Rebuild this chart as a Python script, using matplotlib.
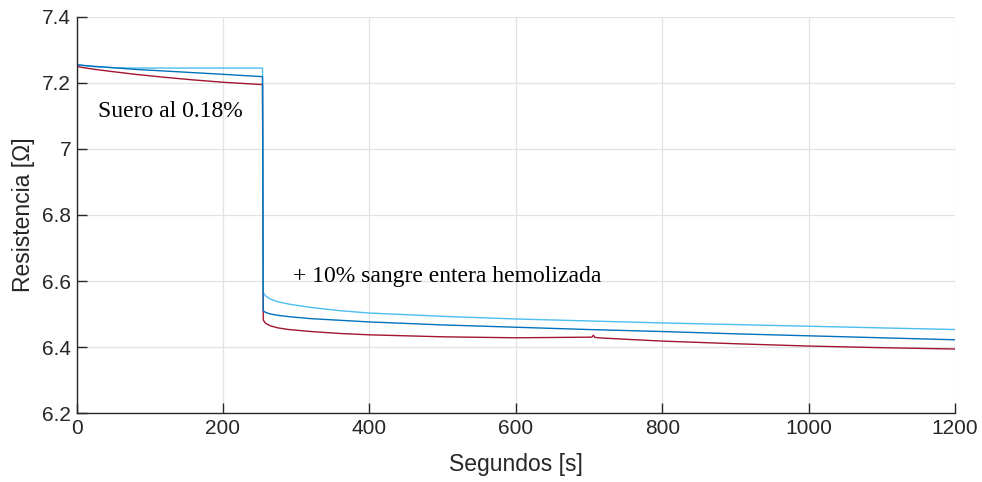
import matplotlib.pyplot as plt

# Resistance readings (ohm) over time (s) for three electrodes
t_pre = [0, 10, 25, 50, 80, 120, 160, 200, 230, 254]
r_cyan_pre = [7.255, 7.252, 7.249, 7.246, 7.245, 7.245, 7.245, 7.245, 7.245, 7.245]
r_blue_pre = [7.255, 7.253, 7.250, 7.246, 7.241, 7.236, 7.231, 7.226, 7.222, 7.219]
r_red_pre = [7.250, 7.246, 7.241, 7.234, 7.226, 7.217, 7.209, 7.202, 7.198, 7.195]

t_post = [255, 258, 265, 275, 290, 320, 360, 400, 500, 600, 700, 800, 900, 1000, 1100, 1200]
r_cyan_post = [6.565, 6.555, 6.545, 6.537, 6.530, 6.520, 6.510, 6.503, 6.493, 6.485, 6.479, 6.473, 6.468, 6.463, 6.458, 6.453]
r_blue_post = [6.510, 6.505, 6.500, 6.496, 6.492, 6.486, 6.481, 6.476, 6.467, 6.460, 6.453, 6.447, 6.440, 6.434, 6.428, 6.422]

# red trace has a small step near t = 706 s
t_red_post = [255, 258, 265, 275, 290, 320, 360, 400, 500, 600, 704, 706, 708, 720, 800, 900, 1000, 1100, 1200]
r_red_post = [6.482, 6.472, 6.464, 6.458, 6.453, 6.447, 6.441, 6.437, 6.431, 6.428, 6.430, 6.436, 6.429, 6.427, 6.418, 6.410, 6.403, 6.398, 6.394]

cyan = "#4DBEEE"
blue = "#0072BD"
red = "#A2142F"

plt.rcParams["font.family"] = ["Liberation Sans", "DejaVu Sans"]

fig, ax = plt.subplots(figsize=(9.82, 4.82), dpi=100)
fig.subplots_adjust(left=0.078, right=0.9725, top=0.965, bottom=0.143)

ax.plot(t_pre + t_red_post, r_red_pre + r_red_post, color=red, lw=1.0)
ax.plot(t_pre + t_post, r_cyan_pre + r_cyan_post, color=cyan, lw=1.0)
ax.plot(t_pre + t_post, r_blue_pre + r_blue_post, color=blue, lw=1.0)

ax.set_xlim(0, 1200)
ax.set_ylim(6.2, 7.4)
ax.set_xticks([0, 200, 400, 600, 800, 1000, 1200])
ax.set_yticks([6.2, 6.4, 6.6, 6.8, 7.0, 7.2, 7.4])
ax.set_yticklabels(["6.2", "6.4", "6.6", "6.8", "7", "7.2", "7.4"])

ax.grid(True, color="#e3e3e3", lw=0.9)
ax.set_axisbelow(True)
for side in ["top", "right"]:
    ax.spines[side].set_visible(False)
for side in ["left", "bottom"]:
    ax.spines[side].set_color("#262626")
    ax.spines[side].set_linewidth(1.0)
ax.tick_params(direction="in", length=7, width=1.0, colors="#262626",
               labelsize=15, pad=4)

ax.set_xlabel("Segundos [s]", fontsize=16.5, color="#262626", labelpad=11)
ax.set_ylabel("Resistencia [Ω]", fontsize=16.5, color="#262626", labelpad=5)

ax.text(29, 7.097, "Suero al 0.18%", family=["Liberation Serif", "DejaVu Serif"],
        fontsize=17, va="baseline")
ax.text(295, 6.597, "+ 10% sangre entera hemolizada",
        family=["Liberation Serif", "DejaVu Serif"], fontsize=17, va="baseline")

fig.savefig("out.png")
